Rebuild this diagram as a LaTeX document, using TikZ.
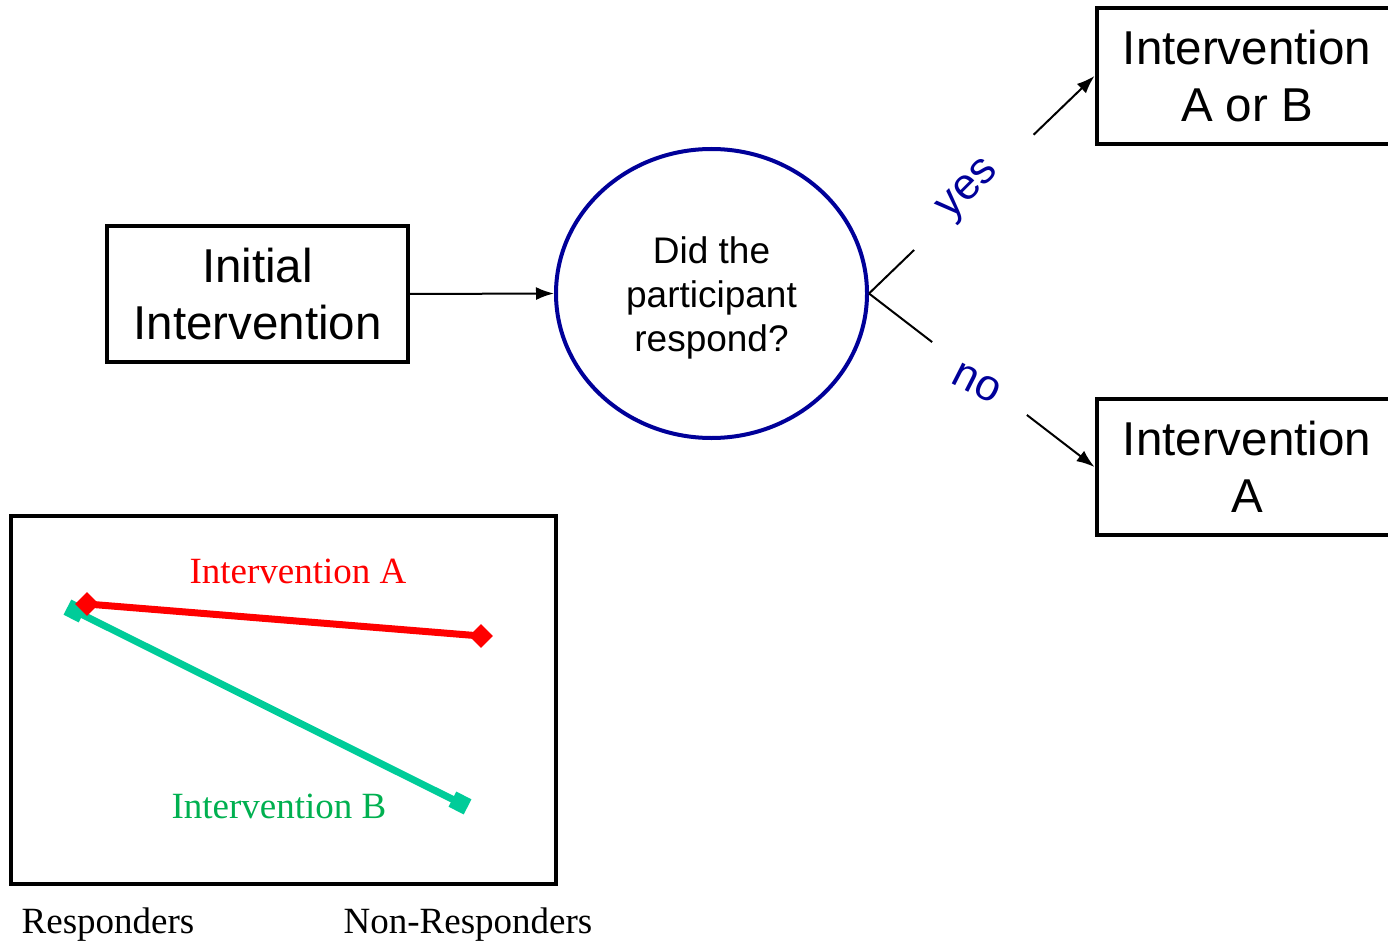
\documentclass[tikz,border=0pt]{standalone}
\usepackage{fontspec}
\setmainfont{Liberation Serif}
\newfontfamily\arialfont{Liberation Sans}
\usetikzlibrary{arrows.meta,shapes.geometric,calc}
\definecolor{navy}{RGB}{0,0,153}
\definecolor{lineB}{RGB}{0,204,153}
\definecolor{textB}{RGB}{0,176,80}
\tikzset{
  box/.style={draw, line width=4pt, minimum width=301pt, minimum height=136pt,
    align=center, font=\arialfont\fontsize{47.5}{57}\selectfont, inner sep=0pt},
  conn/.style={line width=2pt, -{Latex[length=18pt,width=13pt]}},
  plain/.style={line width=2pt},
  branch/.style={inner sep=0pt, text=navy, font=\arialfont\fontsize{44}{52}\selectfont},
  serif/.style={font=\fontsize{37}{44}\selectfont},
  markA/.style={diamond, fill=red, minimum size=24pt, inner sep=0pt},
  markB/.style={rectangle, fill=lineB, minimum size=17pt, inner sep=0pt},
}
\begin{document}
\begin{tikzpicture}[x=1pt,y=-1pt]
\useasboundingbox (0,0) rectangle (1388,941);
\clip (0,0) rectangle (1388,941);

% flow of the decision
\node[box] (init) at (257.5,294) {Initial\\Intervention};
\node[draw=navy, line width=4pt, ellipse, minimum width=311pt, minimum height=289pt,
  inner sep=0pt] (q) at (711.5,293.5) {};
\node[align=center, inner sep=0pt, font=\arialfont\fontsize{37}{44}\selectfont]
  (qtext) at (711.5,298) {Did the\\participant\\respond?};
\node[box] (ab) at (1247,76) {Intervention\\A or B};
\node[box] (a) at (1247,467) {Intervention\\A};

\draw[conn] (init.east) -- (q.west);

% branches, broken where their labels sit
\coordinate (yesA) at ($(q.east)!0.2!(ab.west)$);
\coordinate (yesB) at ($(q.east)!0.73!(ab.west)$);
\coordinate (noA) at ($(q.east)!0.28!(a.west)$);
\coordinate (noB) at ($(q.east)!0.70!(a.west)$);
\draw[plain] (q.east) -- (yesA);
\draw[conn] (yesB) -- (ab.west);
\draw[plain] (q.east) -- (noA);
\draw[conn] (noB) -- (a.west);
\node[branch, rotate=45] (yes) at (970,191) {yes};
\node[branch, rotate=-27] (no) at (977,383) {no};

% outcome plot
\node[draw, line width=4pt, minimum width=545pt, minimum height=368pt, inner sep=0pt]
  (plot) at (283.5,700) {};
\coordinate (b1) at (75,611);
\coordinate (b2) at (460,803);
\coordinate (a1) at (87,604);
\coordinate (a2) at (481,636);
\draw[lineB, line width=7pt] (b1) -- (b2);
\node[markB, rotate=-27] at (b1) {};
\node[markB, rotate=-27] at (b2) {};
\draw[red, line width=7pt] (a1) -- (a2);
\node[markA] at (a1) {};
\node[markA] at (a2) {};

\node[serif, text=red] (labA) at (298,571) {Intervention A};
\node[serif, text=textB] (labB) at (279,806) {Intervention B};
\node[serif] (resp) at (108,925) {Responders};
\node[serif] (nonresp) at (468,925) {Non-Responders};
\end{tikzpicture}
\end{document}
